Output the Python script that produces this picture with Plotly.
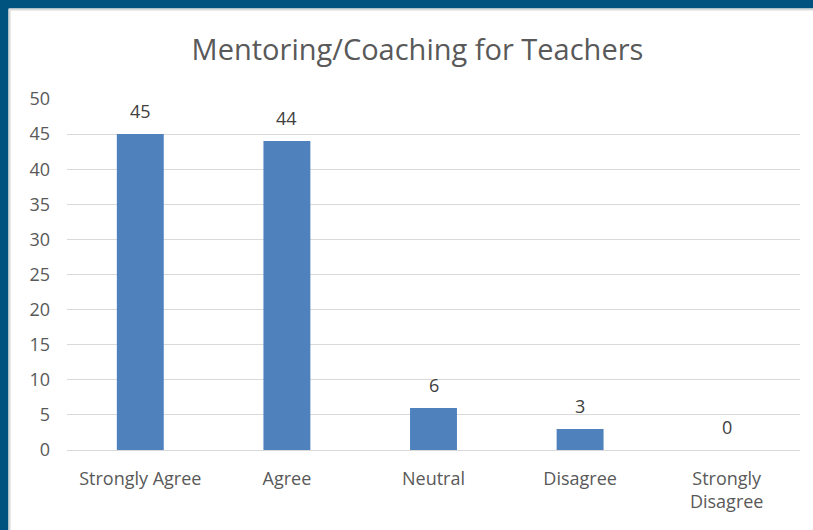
import plotly.graph_objects as go

categories = ["Strongly Agree", "Agree", "Neutral", "Disagree", "Strongly<br>Disagree"]
values = [45, 44, 6, 3, 0]
title_text = "Mentoring/Coaching for Teachers"

W, H = 813, 530
L, R, T, B = 67, 13, 99, 80
pw, ph = W - L - R, H - T - B

def px_x(p):
    return (p - L) / pw

def px_y(p):
    return 1 - (p - T) / ph

fig = go.Figure(go.Bar(
    x=categories, y=values,
    marker=dict(color="#4F81BD", line=dict(width=0)),
    cliponaxis=False, width=0.32, hoverinfo="x+y",
))

annotations = [
    dict(x=c, y=v, xref="x", yref="y", text=str(v), showarrow=False,
         yanchor="bottom", yshift=9,
         font=dict(size=18, color="#404040", family="Open Sans"))
    for c, v in zip(categories, values)
]

shapes = [
    dict(type="rect", xref="paper", yref="paper", x0=px_x(0), x1=px_x(W), y0=px_y(0), y1=px_y(8.5),
         fillcolor="#00527F", line=dict(width=0), layer="below"),
    dict(type="rect", xref="paper", yref="paper", x0=px_x(0), x1=px_x(8.5), y0=px_y(0), y1=px_y(H),
         fillcolor="#00527F", line=dict(width=0), layer="below"),
    dict(type="line", xref="paper", yref="paper", x0=px_x(9.5), x1=px_x(W), y0=px_y(9.5), y1=px_y(9.5),
         line=dict(color="#D9D9D9", width=2), layer="below"),
    dict(type="line", xref="paper", yref="paper", x0=px_x(9.5), x1=px_x(9.5), y0=px_y(9.5), y1=px_y(H),
         line=dict(color="#D9D9D9", width=2), layer="below"),
]

fig.update_layout(
    width=W, height=H,
    margin=dict(l=L, r=R, t=T, b=B),
    paper_bgcolor="white", plot_bgcolor="white",
    font=dict(family="Open Sans", color="#595959", size=18),
    title=dict(text=title_text, x=417.5 / W, xanchor="center", xref="container",
               y=1 - 50 / H, yanchor="middle", yref="container",
               font=dict(size=29, color="#595959", family="Open Sans")),
    showlegend=False,
    shapes=shapes,
    annotations=annotations,
    xaxis=dict(showgrid=False, showline=False, ticks="", ticklabelstandoff=16,
               tickfont=dict(size=18, color="#595959")),
    yaxis=dict(range=[0, 50], dtick=5, showgrid=True, gridcolor="#D9D9D9", gridwidth=1,
               zeroline=True, zerolinecolor="#D9D9D9", zerolinewidth=1, showline=False,
               ticks="", ticklabelstandoff=16, tickfont=dict(size=18, color="#595959")),
)

fig.write_html("out.html", config={"displayModeBar": False},
               post_script="document.body.style.margin='0';document.body.style.overflow='hidden';")
